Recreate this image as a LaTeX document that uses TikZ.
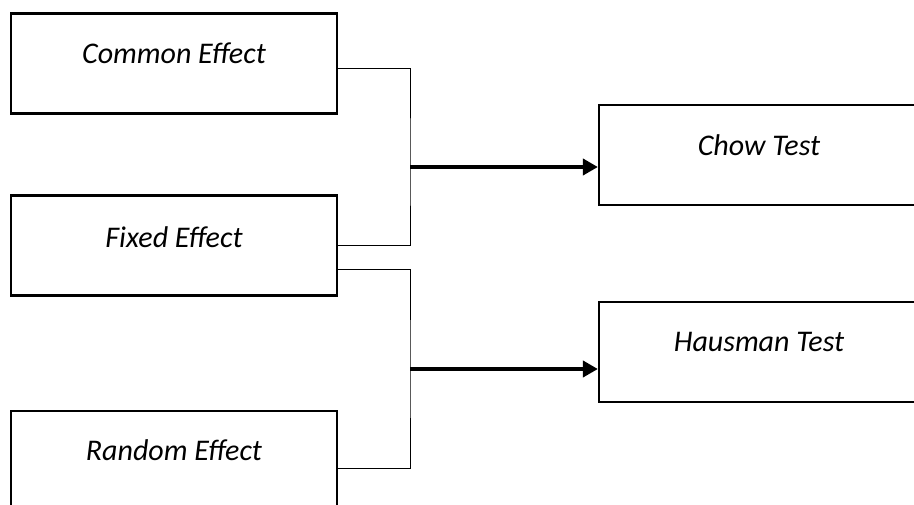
\documentclass[tikz,border=0pt]{standalone}
\usepackage{fontspec}
\setmainfont{Carlito}
\usetikzlibrary{positioning,arrows.meta}

\begin{document}
\begin{tikzpicture}[x=1pt,y=-1pt,
    effbox/.style={draw,line width=2.2pt,minimum width=326pt,minimum height=100pt,inner sep=0pt},
    testbox/.style={draw,line width=2.2pt,minimum width=320pt,minimum height=100pt,inner sep=0pt},
    boxtext/.style={font=\fontsize{30}{36}\selectfont\itshape},
    link/.style={line width=1pt},
    flow/.style={line width=4pt,-{Triangle[length=15pt,width=16pt]}}]

    % Fix the page to the reference size
    \useasboundingbox (0,0) rectangle (914,504);

    % Model boxes on the left
    \node[effbox] (common) at (174,63.5) {};
    \node[effbox] (fixed) at (174,245.5) {};
    \node[effbox] (random) at (174,461) {};

    % Test boxes on the right (right edges run off the page)
    \node[testbox] (chow) at (759,155) {};
    \node[testbox] (hausman) at (759,352) {};

    % Labels sit in the upper part of each box
    \node[boxtext] (commonlbl) at ([yshift=10]common.center) {Common Effect};
    \node[boxtext] (fixedlbl) at ([yshift=8]fixed.center) {Fixed Effect};
    \node[boxtext] (randomlbl) at ([yshift=11]random.center) {Random Effect};
    \node[boxtext] (chowlbl) at ([yshift=10]chow.center) {Chow Test};
    \node[boxtext] (hausmanlbl) at ([yshift=10]hausman.center) {Hausman Test};

    % Junction points of the two brackets
    \coordinate (j1) at (410,167);
    \coordinate (j2) at (410,369);

    % Brackets joining the models
    \draw[link] ([yshift=-4.5]common.east) -| (j1) |- (fixed.east);
    \draw[link] ([yshift=-23.5]fixed.east) -| (j2) |- ([yshift=-7]random.east);

    % Arrows to the tests
    \draw[flow] (j1) -- (chow.west |- j1);
    \draw[flow] (j2) -- (hausman.west |- j2);

\end{tikzpicture}
\end{document}
